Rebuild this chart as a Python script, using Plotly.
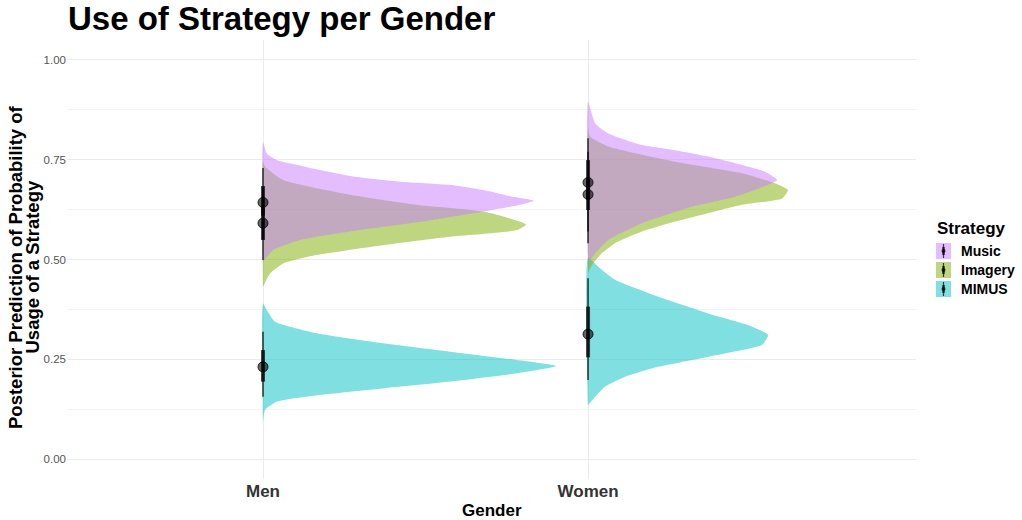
import plotly.graph_objects as go

# ---------------- data ----------------
genders = ["Men", "Women"]
strategies = ["Music", "Imagery", "MIMUS"]
strategy_rgb = {"Music": "199,124,255", "Imagery": "124,174,0", "MIMUS": "0,191,196"}

# slab outlines: posterior probability (y) and scaled density (width)
men_music_y = [0.794, 0.765, 0.749, 0.741, 0.724, 0.708, 0.695, 0.687, 0.674, 0.657, 0.647,
               0.637, 0.620, 0.599, 0.574, 0.549, 0.524, 0.494]
men_music_w = [0.0, 0.012, 0.043, 0.083, 0.175, 0.277, 0.422, 0.575, 0.677, 0.769, 0.834,
               0.791, 0.677, 0.523, 0.298, 0.114, 0.031, 0.0]

men_imagery_y = [0.744, 0.733, 0.699, 0.662, 0.637, 0.620, 0.604, 0.588, 0.574, 0.557,
                 0.536, 0.511, 0.490, 0.465, 0.432]
men_imagery_w = [0.0, 0.006, 0.062, 0.268, 0.471, 0.677, 0.754, 0.809, 0.782, 0.575,
                 0.369, 0.163, 0.062, 0.022, 0.0]

men_mimus_y = [0.390, 0.373, 0.344, 0.315, 0.290, 0.269, 0.248, 0.233, 0.215, 0.194,
               0.177, 0.160, 0.144, 0.123, 0.093]
men_mimus_w = [0.0, 0.012, 0.037, 0.166, 0.369, 0.575, 0.782, 0.902, 0.782, 0.575,
               0.369, 0.166, 0.043, 0.006, 0.0]

women_music_y = [0.895, 0.841, 0.816, 0.787, 0.774, 0.758, 0.737, 0.720, 0.699, 0.687,
                 0.657, 0.632, 0.591, 0.549, 0.516, 0.491]
women_music_w = [0.0, 0.022, 0.062, 0.166, 0.268, 0.369, 0.474, 0.545, 0.582, 0.554,
                 0.452, 0.320, 0.166, 0.062, 0.022, 0.0]

women_imagery_y = [0.830, 0.808, 0.783, 0.745, 0.716, 0.691, 0.674, 0.653, 0.637, 0.616,
                   0.595, 0.570, 0.541, 0.516, 0.490, 0.466]
women_imagery_w = [0.0, 0.006, 0.062, 0.268, 0.474, 0.575, 0.615, 0.597, 0.474, 0.369,
                   0.268, 0.166, 0.083, 0.043, 0.015, 0.0]

women_mimus_y = [0.504, 0.482, 0.449, 0.407, 0.365, 0.336, 0.311, 0.286, 0.273, 0.256,
                 0.231, 0.206, 0.181, 0.156, 0.135]
women_mimus_w = [0.0, 0.031, 0.083, 0.215, 0.369, 0.492, 0.554, 0.535, 0.474, 0.369,
                 0.215, 0.114, 0.052, 0.022, 0.0]

# point intervals: median, 66% and 95% intervals (order: Music, Imagery, MIMUS)
men_median = [0.643, 0.591, 0.231]
men_thick_lo = [0.610, 0.549, 0.194]
men_thick_hi = [0.684, 0.630, 0.273]
men_thin_lo = [0.550, 0.499, 0.156]
men_thin_hi = [0.729, 0.680, 0.319]

women_median = [0.693, 0.663, 0.313]
women_thick_lo = [0.650, 0.624, 0.255]
women_thick_hi = [0.749, 0.700, 0.382]
women_thin_lo = [0.570, 0.541, 0.198]
women_thin_hi = [0.804, 0.770, 0.453]

y_tickvals = [0.0, 0.25, 0.5, 0.75, 1.0]
y_ticktext = ["0.00", "0.25", "0.50", "0.75", "1.00"]

# ---------------- figure ----------------
slabs = {
    ("Men", "Music"): (men_music_y, men_music_w),
    ("Men", "Imagery"): (men_imagery_y, men_imagery_w),
    ("Men", "MIMUS"): (men_mimus_y, men_mimus_w),
    ("Women", "Music"): (women_music_y, women_music_w),
    ("Women", "Imagery"): (women_imagery_y, women_imagery_w),
    ("Women", "MIMUS"): (women_mimus_y, women_mimus_w),
}
intervals = {
    "Men": (men_median, men_thick_lo, men_thick_hi, men_thin_lo, men_thin_hi),
    "Women": (women_median, women_thick_lo, women_thick_hi, women_thin_lo, women_thin_hi),
}

FONT = "Liberation Sans, Arial, Helvetica, sans-serif"
fig = go.Figure()

draw_order = ["MIMUS", "Imagery", "Music"]
for gi, g in enumerate(genders):
    x0 = gi + 1
    for s in draw_order:
        ys, ws = slabs[(g, s)]
        xs = [x0 + w for w in ws] + [x0, x0]
        yy = list(ys) + [ys[-1], ys[0]]
        fig.add_trace(go.Scatter(
            x=xs, y=yy, mode="lines", fill="toself",
            fillcolor=f"rgba({strategy_rgb[s]},0.5)",
            line=dict(width=0, color="rgba(0,0,0,0)", shape="spline", smoothing=0.5),
            hoverinfo="skip", showlegend=False))

ink = "rgba(0,0,0,0.72)"
for gi, g in enumerate(genders):
    x0 = gi + 1
    med, tlo, thi, nlo, nhi = intervals[g]
    for si, s in enumerate(strategies):
        fig.add_trace(go.Scatter(x=[x0, x0], y=[nlo[si], nhi[si]], mode="lines",
                                 line=dict(color=ink, width=1.6), hoverinfo="skip",
                                 showlegend=False))
        fig.add_trace(go.Scatter(x=[x0, x0], y=[tlo[si], thi[si]], mode="lines",
                                 line=dict(color=ink, width=4), hoverinfo="skip",
                                 showlegend=False))
        fig.add_trace(go.Scatter(x=[x0], y=[med[si]], mode="markers",
                                 marker=dict(color="rgba(0,0,0,0.6)", size=10,
                                             line=dict(color="rgba(0,0,0,0.8)", width=1)),
                                 hoverinfo="skip", showlegend=False))

# ---------------- layout ----------------
W, H = 1022, 520
PL, PR, PT, PB = 67, 916, 40, 479


def px(x):
    return (x - PL) / (PR - PL)


def py(y):
    return (PB - y) / (PB - PT)


annotations = [
    dict(text="<b>Use of Strategy per Gender</b>", x=px(66), y=py(19), xref="paper", yref="paper",
         xanchor="left", yanchor="middle", showarrow=False,
         font=dict(family=FONT, size=33, color="#000000")),
    dict(text="<b>Gender</b>", x=px(491.5), y=py(511), xref="paper", yref="paper",
         xanchor="center", yanchor="middle", showarrow=False,
         font=dict(family=FONT, size=17, color="#000000")),
    dict(text="<b>Posterior Prediction of Probability of</b>", x=px(15), y=py(267), xref="paper",
         yref="paper", xanchor="center", yanchor="middle", textangle=-90, showarrow=False,
         font=dict(family=FONT, size=18.5, color="#000000")),
    dict(text="<b>Usage of a Strategy</b>", x=px(31.5), y=py(267), xref="paper",
         yref="paper", xanchor="center", yanchor="middle", textangle=-90, showarrow=False,
         font=dict(family=FONT, size=18.5, color="#000000")),
    dict(text="<b>Strategy</b>", x=px(935), y=py(228), xref="paper", yref="paper",
         xanchor="left", yanchor="middle", showarrow=False,
         font=dict(family=FONT, size=17, color="#000000")),
]

shapes = []
key_top = [243, 262, 281]
for si, s in enumerate(strategies):
    t = key_top[si]
    b = t + 16
    c = (t + b) / 2
    shapes.append(dict(type="rect", xref="paper", yref="paper", x0=px(936), x1=px(951),
                       y0=py(b), y1=py(t), fillcolor=f"rgba({strategy_rgb[s]},0.5)",
                       line=dict(width=0), layer="above"))
    shapes.append(dict(type="line", xref="paper", yref="paper", x0=px(943.5), x1=px(943.5),
                       y0=py(b - 1), y1=py(t + 1), line=dict(color=ink, width=1.2), layer="above"))
    shapes.append(dict(type="line", xref="paper", yref="paper", x0=px(943.5), x1=px(943.5),
                       y0=py(c + 4), y1=py(c - 4), line=dict(color=ink, width=2.5), layer="above"))
    shapes.append(dict(type="circle", xref="paper", yref="paper", x0=px(941.5), x1=px(945.5),
                       y0=py(c + 2), y1=py(c - 2), fillcolor="rgba(0,0,0,0.7)",
                       line=dict(width=0), layer="above"))
    annotations.append(dict(text=f"<b>{s}</b>", x=px(959), y=py(c), xref="paper", yref="paper",
                            xanchor="left", yanchor="middle", showarrow=False,
                            font=dict(family=FONT, size=14, color="#000000")))

fig.update_layout(
    width=W, height=H,
    margin=dict(l=PL, r=W - PR, t=PT, b=H - PB, pad=0),
    paper_bgcolor="white", plot_bgcolor="white",
    showlegend=False,
    annotations=annotations, shapes=shapes,
    xaxis=dict(range=[0.397, 3.009], tickvals=[1, 2], ticktext=[f"<b>{g}</b>" for g in genders],
               showgrid=True, gridcolor="#EBEBEB", gridwidth=1.2, zeroline=False,
               showline=False, ticks="", tickfont=dict(family=FONT, size=17, color="#333333"),
               fixedrange=True),
    yaxis=dict(range=[-0.05, 1.05], tickvals=y_tickvals, ticktext=y_ticktext,
               showgrid=True, gridcolor="#EBEBEB", gridwidth=1.2, zeroline=False,
               showline=False, ticks="", tickfont=dict(family=FONT, size=11.5, color="#555555"),
               minor=dict(tick0=0.125, dtick=0.25, showgrid=True, gridcolor="#F3F3F3", gridwidth=0.8),
               fixedrange=True),
)

fig.write_html(
    "out.html",
    config={"displayModeBar": False},
    post_script="document.body.style.margin='0';document.body.style.padding='0';"
                "document.documentElement.style.overflow='hidden';",
)
